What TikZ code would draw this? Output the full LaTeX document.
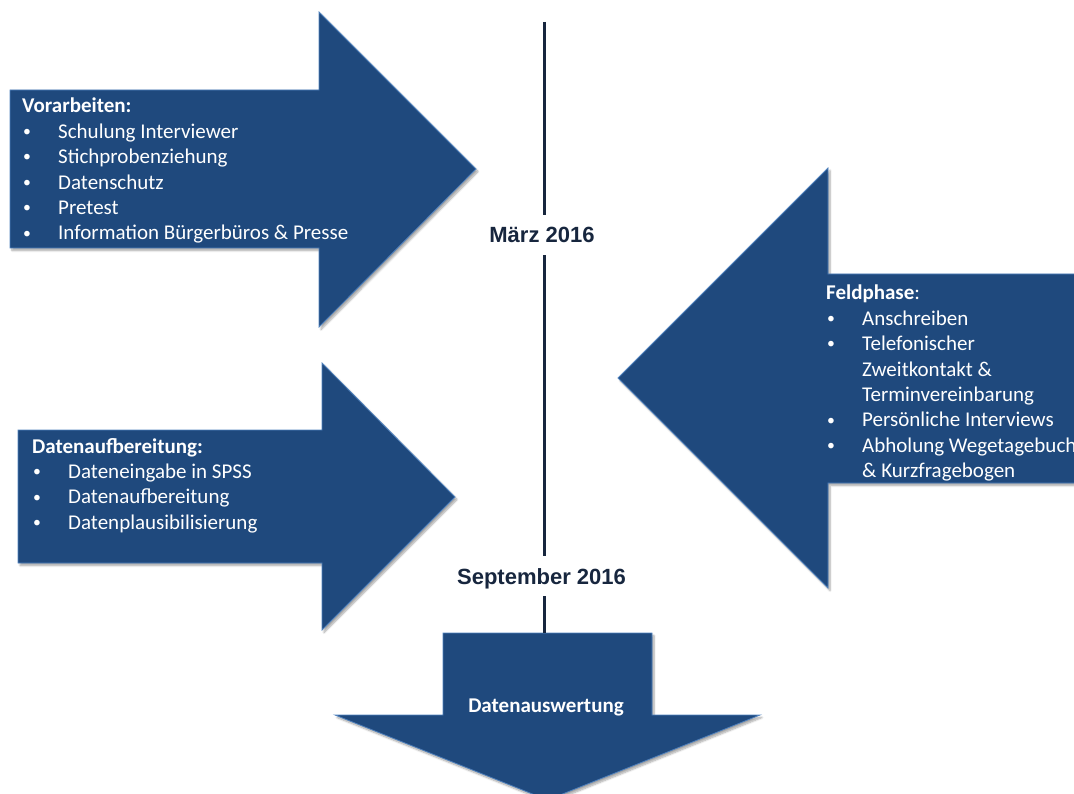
\documentclass[tikz,border=0pt]{standalone}
\usepackage{fontspec}
\setmainfont{Carlito}
\newfontfamily\datefont{Liberation Sans}
\usetikzlibrary{shadows.blur}
\definecolor{arrowfill}{RGB}{31,73,125}
\definecolor{arrowedge}{RGB}{79,129,189}
\definecolor{navy}{RGB}{23,38,62}
\newcommand\bul{\hspace*{1pt}\raisebox{1.8pt}{\scalebox{0.75}{\textbullet}}}
\begin{document}
\begin{tikzpicture}[x=1pt,y=-1pt,
  blockarrow/.style={fill=arrowfill, draw=arrowedge, line width=0.8pt, line join=miter,
    blur shadow={shadow xshift=2pt, shadow yshift=-2.5pt, shadow blur steps=6, shadow opacity=35}},
  blocktext/.style={text=white, inner sep=0pt, anchor=base west,
    font=\fontsize{21}{25.4}\selectfont},
  datelabel/.style={fill=white, text=navy, font=\datefont\bfseries\fontsize{22}{26}\selectfont,
    text height=16pt, text depth=0pt, inner xsep=4pt, inner ysep=12pt},
  timeline/.style={draw=navy, line width=2.6pt}]
\useasboundingbox (0,0) rectangle (1074,794);

\begin{scope}
\clip (0,0) rectangle (1074,794);
% Vorarbeiten (right-pointing)
\path[blockarrow] (10,90) -- (319,90) -- (319,12) -- (476,169) -- (319,327)
  -- (319,248) -- (10,248) -- cycle;
% Datenaufbereitung (right-pointing)
\path[blockarrow] (18,430) -- (322,430) -- (322,363) -- (455,497) -- (322,630)
  -- (322,563) -- (18,563) -- cycle;
% Feldphase (left-pointing)
\path[blockarrow] (1090,274) -- (828,274) -- (828,168) -- (618,378) -- (828,588)
  -- (828,483) -- (1090,483) -- cycle;
% Datenauswertung (down-pointing)
\path[blockarrow] (443,633) -- (652,633) -- (652,715) -- (760,715) -- (547.5,800)
  -- (335,715) -- (443,715) -- cycle;
\end{scope}

% Timeline with dates
\coordinate (ttop) at (544.5,22);
\coordinate (tbot) at (544.5,633);
\node[datelabel] (maerz) at (542,235) {März 2016};
\node[datelabel] (sept) at (541.5,576) {September 2016};
\draw[timeline] (ttop) -- (ttop |- maerz.north);
\draw[timeline] (ttop |- maerz.south) -- (ttop |- sept.north);
\draw[timeline] (ttop |- sept.south) -- (tbot);

% Texts in the arrows
\node[blocktext] (vor) at (22,113) {\begin{tabular}[t]{@{}p{36pt}@{}l@{}}
  \multicolumn{2}{@{}l@{}}{\textbf{Vorarbeiten:}}\\
  \bul & Schulung Interviewer\\
  \bul & Stichprobenziehung\\
  \bul & Datenschutz\\
  \bul & Pretest\\
  \bul & Information Bürgerbüros \& Presse
\end{tabular}};

\node[blocktext] (auf) at (32,453) {\begin{tabular}[t]{@{}p{36pt}@{}l@{}}
  \multicolumn{2}{@{}l@{}}{\textbf{Datenaufbereitung:}}\\
  \bul & Dateneingabe in SPSS\\
  \bul & Datenaufbereitung\\
  \bul & Datenplausibilisierung
\end{tabular}};

\node[blocktext] (feld) at (826,300) {\begin{tabular}[t]{@{}p{36pt}@{}l@{}}
  \multicolumn{2}{@{}l@{}}{\textbf{Feldphase}:}\\
  \bul & Anschreiben\\
  \bul & Telefonischer\\
       & Zweitkontakt \&\\
       & Terminvereinbarung\\
  \bul & Persönliche Interviews\\
  \bul & Abholung Wegetagebuch\\
       & \& Kurzfragebogen
\end{tabular}};

\node[text=white, inner sep=0pt, anchor=base, font=\bfseries\fontsize{21}{25}\selectfont]
  (ausw) at (546,712) {Datenauswertung};
\end{tikzpicture}
\end{document}
